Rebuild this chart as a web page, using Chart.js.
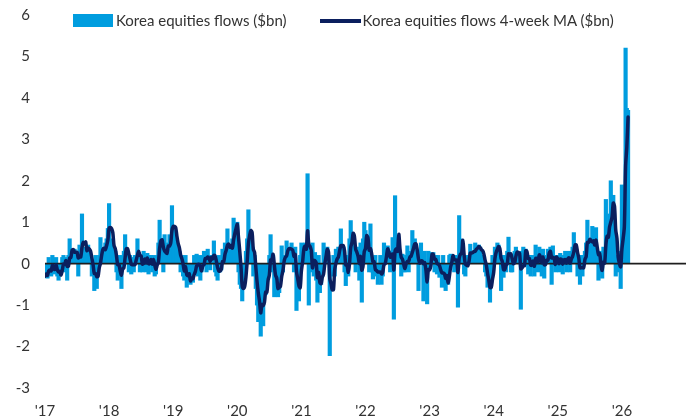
<!DOCTYPE html>
<html>
<head>
<meta charset="utf-8">
<title>Korea equities flows</title>
<script src="https://cdn.jsdelivr.net/npm/chart.js@4.4.1/dist/chart.umd.min.js"></script>
<style>
    html, body { margin: 0; padding: 0; background: #fff; }
    #wrap { position: relative; width: 690px; height: 419px; }
    #legend {
        position: absolute; top: 11px; left: 73px;
        display: flex; align-items: center;
        font-family: Lato, "Open Sans", sans-serif; font-size: 15px; color: #333;
        white-space: nowrap; line-height: 19px;
    }
    .legend_item { display: flex; align-items: center; }
    .legend_item + .legend_item { margin-left: 33px; }
    .swatch_bar { width: 40px; height: 13px; margin-right: 3px; }
    .swatch_line { width: 41px; height: 4px; margin-right: 2px; }
</style>
</head>
<body>
<div id="wrap">
    <canvas id="flows-chart" width="690" height="419"></canvas>
    <div id="legend"></div>
</div>
<script>
// Weekly Korea equities flows ($bn), one array per year
const flows2017 = [-0.3, -0.2, -0.35, 0.15, -0.2, -0.3, 0.2, -0.2, -0.25, 0.15, -0.3, -0.4, -0.2, -0.2, 0.15, 0.2, -0.2, 0.15, -0.4, 0.2, 0.6, 0.2, 0.3, 0.25, 0.35, 0.2, 0.3, -0.3, 0.45, 0.2, 1.2, 0.2, 0.3, 0.4, 0.35, 0.45, 0.2, 0.2, -0.3, -0.2, -0.65, 0.2, -0.6, -0.2, 0.2, 0.63, 0.2, 0.35, 0.3, 0.5, 0.6, 0.85];
const flows2018 = [1.45, 0.6, 0.5, 0.45, 0.2, 0.3, -0.2, -0.4, 0.2, -0.3, -0.6, 0.2, 0.3, 0.7, 0.25, 0.2, -0.2, 0.2, -0.25, 0.15, -0.2, 0.2, 0.2, 0.6, 0.2, -0.2, 0.15, -0.2, 0.3, 0.2, -0.2, 0.25, -0.25, 0.2, 0.2, -0.2, 0.2, -0.3, -0.25, 0.2, 0.5, 1.05, 0.45, 0.3, -0.2, 0.7, 0.3, 0.2, 0.5, 0.7, 0.6, 1.4];
const flows2019 = [0.9, 0.7, 0.5, 0.55, 0.2, 0.3, -0.2, 0.2, -0.3, -0.4, 0.2, -0.57, -0.4, -0.2, -0.5, -0.3, -0.45, 0.2, -0.2, 0.23, -0.3, 0.2, -0.4, -0.2, 0.2, 0.3, 0.2, -0.2, 0.35, 0.2, -0.15, 0.2, 0.2, 0.55, -0.2, -0.3, -0.4, 0.2, -0.2, -0.15, 0.35, 0.2, 0.5, 0.25, 0.84, 0.3, 0.2, 0.4, 0.6, 1.1, 0.8, 0.9];
const flows2020 = [1.0, -0.2, -0.5, -0.6, -0.9, -0.4, -0.3, 0.3, 0.6, 1.3, 0.5, 0.8, 0.4, -0.3, 0.2, -0.6, -1.0, -1.4, -0.6, -1.75, -0.2, -1.5, -0.3, -0.75, -0.2, -0.33, 0.2, 0.7, -0.2, 0.2, -0.8, -0.3, -0.5, -0.8, -0.7, -0.2, 0.43, -0.2, 0.2, 0.2, 0.55, 0.3, 0.4, 0.2, 0.5, 0.2, -0.2, 0.4, -1.13, -0.5, -0.9, 0.2];
const flows2021 = [0.5, 0.4, 0.3, 0.5, 0.2, 2.17, -1.0, 0.3, -0.2, 0.5, -0.3, 0.27, -0.4, -0.93, 0.2, -0.7, -0.5, -0.3, 0.5, 0.3, 0.2, 0.4, 0.2, -2.22, -0.3, -0.2, 0.2, -0.3, 0.35, 0.2, 0.4, 0.3, 0.84, 0.2, 0.4, -0.2, -0.53, 0.2, -0.3, 0.6, 1.04, 0.7, 0.6, 0.3, -0.2, 0.4, 0.2, -0.4, 0.5, -0.93, 0.6, 1.0];
const flows2022 = [0.8, 0.3, 0.4, -0.2, 0.96, -0.2, -0.37, -0.2, 0.2, -0.3, -0.5, -0.2, 0.2, -0.5, -0.3, 0.5, 0.3, 0.2, 0.43, 0.2, -0.2, 0.3, 0.63, -1.34, 1.64, 0.5, 0.4, 0.3, 0.2, -0.3, 0.23, -0.2, -0.2, 0.2, 0.43, -0.2, 0.2, 0.3, 0.8, 0.2, 0.6, 0.3, 0.2, -0.65, 0.2, 0.5, 0.2, -0.9, 0.3, -0.2, -0.97, 0.3];
const flows2023 = [0.27, 0.2, 0.15, 0.27, -0.2, 0.2, -0.25, 0.2, -0.33, -0.2, -0.57, 0.2, -0.4, -0.65, -0.3, -0.5, 0.2, 0.23, 0.2, 0.15, -0.2, 0.2, 0.2, -1.05, 1.16, 0.6, 0.3, 0.2, -0.25, -0.3, 0.2, 0.15, 0.2, 0.47, 0.2, 0.2, 0.3, 0.5, 0.4, 0.3, 0.45, 0.4, 0.2, 0.2, 0.15, -0.2, -0.3, -0.57, -0.5, -0.93, -0.3, 0.2];
const flows2024 = [0.2, 0.4, 0.3, 0.5, 0.45, 0.2, -0.65, 0.2, -0.33, 0.2, -0.2, 0.3, 0.64, 0.2, -0.2, -0.2, 0.2, 0.3, 0.4, 0.2, 0.2, 0.2, -1.1, 0.3, 0.4, 0.2, 0.35, 0.2, -0.25, 0.2, -0.3, 0.2, 0.15, -0.3, 0.45, 0.2, -0.2, 0.4, 0.2, -0.3, 0.35, -0.35, 0.2, 0.15, 0.35, 0.3, 0.4, -0.5, 0.43, 0.2, -0.2, 0.2];
const flows2025 = [0.2, -0.2, 0.25, 0.15, -0.25, 0.2, 0.3, -0.2, 0.15, 0.3, -0.2, 0.2, 0.4, 0.75, 0.45, 0.2, -0.3, 0.2, -0.5, 0.2, -0.3, 0.2, 0.3, 0.5, 1.05, 0.2, 0.6, 0.4, 0.9, 0.3, 0.2, 0.87, 0.2, -0.4, 0.3, -0.2, -0.35, 0.4, 0.2, 1.55, 0.5, 0.3, 1.2, 2.0, 1.0, 1.65, 0.9, -0.3, 0.2, -0.2, 0.3, -0.6];
const flows2026 = [1.9, 0.8, 1.5, 5.2, 3.75, 3.7];

const years = [2017, 2018, 2019, 2020, 2021, 2022, 2023, 2024, 2025, 2026];
const flowsByYear = [flows2017, flows2018, flows2019, flows2020, flows2021, flows2022, flows2023, flows2024, flows2025, flows2026];
const yearLabels = ["'17", "'18", "'19", "'20", "'21", "'22", "'23", "'24", "'25", "'26"];

const barColor = '#009ddf';
const lineColor = '#0b1f5e';
const textColor = '#333333';

// Weekly positions on the year axis
const weekX = [];
const flows = [];
flowsByYear.forEach((arr, n) => {
    arr.forEach((v, k) => {
        weekX.push(years[n] + k / 52);
        flows.push(v);
    });
});

// 4-week moving average of the same weekly flows
const flowsMA = flows.map((v, i) => {
    const win = flows.slice(Math.max(0, i - 3), i + 1);
    return win.reduce((a, b) => a + b, 0) / win.length;
});

// Black zero line, drawn over the bars but under the MA line
const zeroLine = {
    id: 'zeroLine',
    afterDatasetDraw(chart, args) {
        if (args.index !== 0) return;
        const { ctx, chartArea, scales } = chart;
        const y = scales.y.getPixelForValue(0);
        ctx.save();
        ctx.strokeStyle = '#1e1e1e';
        ctx.lineWidth = 1.6;
        ctx.beginPath();
        ctx.moveTo(chartArea.left, y);
        ctx.lineTo(chartArea.right, y);
        ctx.stroke();
        ctx.restore();
    }
};

Chart.defaults.font.family = 'Lato, "Open Sans", sans-serif';

const ctx = document.getElementById('flows-chart').getContext('2d');
const flowsChart = new Chart(ctx, {
    type: 'bar',
    data: {
        datasets: [{
            type: 'bar',
            label: 'Korea equities flows ($bn)',
            data: weekX.map((x, i) => ({ x: x, y: flows[i] })),
            backgroundColor: barColor,
            borderWidth: 0,
            barThickness: 3.5,
            order: 1
        }, {
            type: 'line',
            label: 'Korea equities flows 4-week MA ($bn)',
            data: weekX.map((x, i) => ({ x: x, y: flowsMA[i] })),
            borderColor: lineColor,
            backgroundColor: lineColor,
            borderWidth: 3.5,
            pointRadius: 0,
            tension: 0.3,
            borderJoinStyle: 'round',
            borderCapStyle: 'round',
            order: 0
        }]
    },
    options: {
        responsive: false,
        animation: false,
        devicePixelRatio: 1,
        layout: { padding: { top: 15, right: 4, bottom: 0, left: 0 } },
        plugins: {
            legend: { display: false },
            tooltip: { enabled: false }
        },
        scales: {
            x: {
                type: 'linear',
                min: 2017,
                max: 2027,
                offset: false,
                grid: { display: false, drawTicks: false },
                border: { display: false },
                ticks: {
                    stepSize: 1,
                    padding: 14,
                    color: textColor,
                    font: { size: 15 },
                    maxRotation: 0,
                    autoSkip: false,
                    callback: (value) => yearLabels[Math.round(value) - 2017] || ''
                },
                afterFit: (scale) => {
                    scale.height = 31;
                    scale.paddingLeft = 0;
                    scale.paddingRight = 0;
                }
            },
            y: {
                min: -3,
                max: 6,
                grid: { display: false, drawTicks: false },
                border: { display: false },
                ticks: {
                    stepSize: 1,
                    padding: 15,
                    color: textColor,
                    font: { size: 15 }
                },
                afterFit: (scale) => {
                    scale.width = 45;
                    scale.paddingTop = 0;
                    scale.paddingBottom = 0;
                }
            }
        }
    },
    plugins: [zeroLine]
});

// HTML legend built from the chart's datasets
const legendBox = document.getElementById('legend');
flowsChart.data.datasets.forEach((ds) => {
    const item = document.createElement('div');
    item.className = 'legend_item';
    const swatch = document.createElement('span');
    swatch.className = ds.type === 'line' ? 'swatch_line' : 'swatch_bar';
    swatch.style.background = ds.type === 'line' ? ds.borderColor : ds.backgroundColor;
    const text = document.createElement('span');
    text.textContent = ds.label;
    item.appendChild(swatch);
    item.appendChild(text);
    legendBox.appendChild(item);
});
</script>
</body>
</html>
